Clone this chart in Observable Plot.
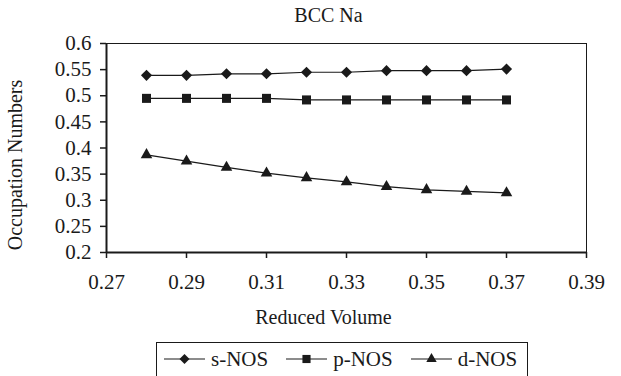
<!DOCTYPE html>
<html>
<head>
<meta charset="utf-8">
<script src="https://cdn.jsdelivr.net/npm/d3@7"></script>
<script src="https://cdn.jsdelivr.net/npm/@observablehq/plot@0.6"></script>
<style>
  html, body { margin: 0; padding: 0; background: #fff; }
  #wrap { position: relative; width: 621px; height: 376px; overflow: hidden; font-family: "Liberation Serif", "Times New Roman", serif; color: #1a1a1a; }
  #title { height: 30px; line-height: 30px; font-size: 20px; text-align: center; padding-left: 36px; box-sizing: border-box; }
  #legend { position: absolute; left: 156px; top: 342px; width: 372px; height: 42px; border: 1px solid #1a1a1a; box-sizing: border-box; display: flex; align-items: flex-start; padding: 4px 0 0 7px; font-size: 21px; line-height: 24px; white-space: nowrap; }
  .item { display: flex; align-items: center; margin-right: 18px; flex-shrink: 0; }
  .item svg { margin-right: 6px; }
</style>
</head>
<body>
<div id="wrap">
  <div id="title">BCC Na</div>
  <div id="chart"></div>
  <div id="legend"></div>
</div>
<script>
const volume = [0.28, 0.29, 0.30, 0.31, 0.32, 0.33, 0.34, 0.35, 0.36, 0.37];
const sNOS = [0.539, 0.539, 0.542, 0.542, 0.545, 0.545, 0.548, 0.548, 0.548, 0.551];
const pNOS = [0.495, 0.495, 0.495, 0.495, 0.492, 0.492, 0.492, 0.492, 0.492, 0.492];
const dNOS = [0.387, 0.375, 0.363, 0.352, 0.343, 0.335, 0.326, 0.320, 0.317, 0.314];
const seriesNames = ["s-NOS", "p-NOS", "d-NOS"];
const seriesSymbols = ["diamond2", "square", "triangle"];
const xTicks = [0.27, 0.29, 0.31, 0.33, 0.35, 0.37, 0.39];
const yTicks = [0.2, 0.25, 0.3, 0.35, 0.4, 0.45, 0.5, 0.55, 0.6];
const xDomain = [0.27, 0.39];
const yDomain = [0.2, 0.6];
const titleText = "BCC Na";
const xLabel = "Reduced Volume";
const yLabel = "Occupation Numbers";

const seriesValues = [sNOS, pNOS, dNOS];
const rows = seriesNames.flatMap((name, i) =>
  volume.map((v, j) => ({series: name, symbol: seriesSymbols[i], x: v, y: seriesValues[i][j]})));
const dotR = {"diamond2": 5.0, "square": 5.1, "triangle": 4.3};
const fmt = d => String(+d.toFixed(2));

const ink = "#1a1a1a";
const chart = Plot.plot({
  width: 621,
  height: 302,
  marginTop: 13,
  marginBottom: 80,
  marginLeft: 106,
  marginRight: 35,
  style: {fontFamily: "'Liberation Serif', 'Times New Roman', serif", fontSize: "21px", color: ink, background: "transparent", overflow: "visible"},
  x: {domain: xDomain},
  y: {domain: yDomain},
  marks: [
    Plot.frame({stroke: ink, strokeWidth: 1}),
    Plot.ruleX([xDomain[0]], {stroke: ink, strokeWidth: 2}),
    Plot.ruleY([yDomain[0]], {stroke: ink, strokeWidth: 2}),
    Plot.axisY({ticks: yTicks, tickFormat: fmt, tickSize: 6, tickPadding: 9, label: null, stroke: ink, strokeWidth: 1.5, fill: ink}),
    Plot.axisX({ticks: xTicks, tickFormat: fmt, tickSize: 6, tickPadding: 16, label: null, stroke: ink, strokeWidth: 1.5, fill: ink}),
    Plot.line(rows, {x: "x", y: "y", z: "series", stroke: ink, strokeWidth: 1.2}),
    ...seriesSymbols.map(sym => Plot.dot(rows.filter(d => d.symbol === sym), {x: "x", y: "y", symbol: "symbol", r: dotR[sym], fill: ink, stroke: "none"})),
    Plot.text([xLabel], {frameAnchor: "bottom", lineAnchor: "middle", textAnchor: "middle", dy: 65, dx: -23, fill: ink, fontSize: 20}),
    Plot.text([yLabel], {frameAnchor: "left", lineAnchor: "middle", textAnchor: "middle", rotate: -90, dx: -91, dy: 17, fill: ink, fontSize: 20})
  ]
});
document.getElementById("chart").appendChild(chart);
document.getElementById("title").textContent = titleText;

const legend = document.getElementById("legend");
seriesNames.forEach((name, i) => {
  const item = document.createElement("div");
  item.className = "item";
  const svg = d3.create("svg").attr("width", 41).attr("height", 14);
  svg.append("line").attr("x1", 0).attr("x2", 41).attr("y1", 7).attr("y2", 7).attr("stroke", ink).attr("stroke-width", 1.2);
  const symType = {"diamond2": d3.symbolDiamond2, "square": d3.symbolSquare, "triangle": d3.symbolTriangle}[seriesSymbols[i]];
  const r = dotR[seriesSymbols[i]] * 0.9;
  svg.append("path").attr("transform", "translate(20.5,7)").attr("d", d3.symbol(symType, Math.PI * r * r)()).attr("fill", ink);
  item.appendChild(svg.node());
  const label = document.createElement("span");
  label.textContent = name;
  item.appendChild(label);
  legend.appendChild(item);
});
</script>
</body>
</html>
